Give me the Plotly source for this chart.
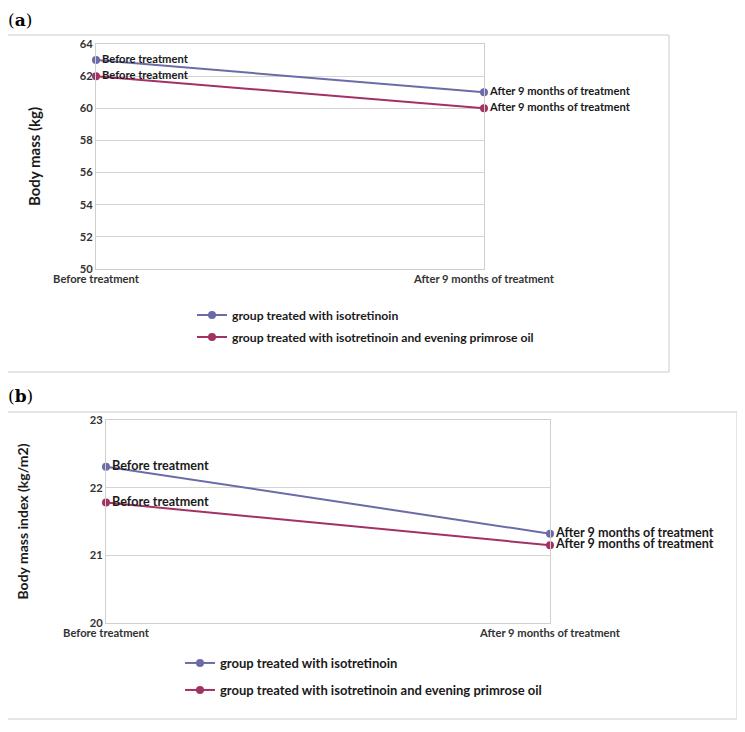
import plotly.graph_objects as go

W, H = 745, 732
OFF = 8  # the page body margin shifts the figure by this much

# data
stages = ["Before treatment", "After 9 months of treatment"]
series_names = ["group treated with isotretinoin",
                "group treated with isotretinoin and evening primrose oil"]
mass_iso = [63, 61]
mass_epo = [62, 60]
bmi_iso = [22.31, 21.32]
bmi_epo = [21.78, 21.15]
mass_ticks = [50, 52, 54, 56, 58, 60, 62, 64]
bmi_ticks = [20, 21, 22, 23]

colors = ["#6B6BAA", "#A23264"]
narrow = "Lato, Roboto, sans-serif"


def px_x(p):
    return (p - OFF) / W


def px_y(p):
    return 1 - (p - OFF) / H


fig = go.Figure()

panels = [
    ("x", "y", [mass_iso, mass_epo], ["legend", "legend2"], 11.2),
    ("x2", "y2", [bmi_iso, bmi_epo], ["legend3", "legend4"], 12.6),
]
for xa, ya, vals, legs, fs in panels:
    for i, v in enumerate(vals):
        fig.add_trace(go.Scatter(
            x=stages, y=v, xaxis=xa, yaxis=ya,
            mode="lines+markers+text",
            name=series_names[i],
            text=stages,
            textposition="middle right",
            textfont=dict(family=narrow, size=fs, color="#1a1a1a", weight="bold"),
            line=dict(color=colors[i], width=2),
            marker=dict(color=colors[i], size=8),
            cliponaxis=False,
            legend=legs[i],
        ))

tickfont = dict(family=narrow, size=11.2, color="#333333", weight="bold")
common_x = dict(type="category", range=[0, 1], showgrid=False, showline=True,
                linecolor="#cfcfcf", linewidth=1, mirror=True, ticks="",
                tickfont=tickfont, fixedrange=True, automargin=False)
common_y = dict(showgrid=True, gridcolor="#d4d4d4", gridwidth=1, showline=True,
                linecolor="#cfcfcf", linewidth=1, mirror=True, ticks="",
                tickfont=tickfont, zeroline=False, automargin=False)

leg = dict(bgcolor="rgba(0,0,0,0)", xanchor="left", yanchor="middle", itemwidth=30)
leg_a = dict(font=dict(family=narrow, size=12.2, color="#1a1a1a", weight="bold"), **leg)
leg_b = dict(font=dict(family=narrow, size=13, color="#1a1a1a", weight="bold"), **leg)

fig.update_layout(
    width=W, height=H,
    margin=dict(l=0, r=0, t=0, b=0, autoexpand=False),
    paper_bgcolor="white", plot_bgcolor="white",
    showlegend=True,
    xaxis=dict(domain=[px_x(96), px_x(484)], anchor="y", **common_x),
    yaxis=dict(domain=[px_y(269), px_y(44)], anchor="x", range=[50, 64],
               tickvals=mass_ticks, title=dict(text="Body mass (kg)",
               font=dict(family=narrow, size=15, color="#1a1a1a", weight="bold"),
               standoff=35), **common_y),
    xaxis2=dict(domain=[px_x(106), px_x(550)], anchor="y2", **common_x),
    yaxis2=dict(domain=[px_y(623), px_y(420)], anchor="x2", range=[20, 23],
                tickvals=bmi_ticks, title=dict(text="Body mass index (kg/m2)",
                font=dict(family=narrow, size=14, color="#1a1a1a", weight="bold"),
                standoff=57), **common_y),
    legend=dict(x=px_x(192), y=px_y(315), **leg_a),
    legend2=dict(x=px_x(192), y=px_y(337), **leg_a),
    legend3=dict(x=px_x(180), y=px_y(663), **leg_b),
    legend4=dict(x=px_x(180), y=px_y(690), **leg_b),
    shapes=[
        dict(type="rect", xref="paper", yref="paper",
             x0=px_x(7), x1=px_x(669), y0=px_y(372), y1=px_y(35),
             line=dict(color="#cccccc", width=1)),
        dict(type="rect", xref="paper", yref="paper",
             x0=px_x(7), x1=px_x(737), y0=px_y(719), y1=px_y(412),
             line=dict(color="#cccccc", width=1)),
    ],
    annotations=[
        dict(text="(<b>a</b>)", x=px_x(6), y=px_y(8), xref="paper", yref="paper",
             xanchor="left", yanchor="top", showarrow=False,
             font=dict(family="DejaVu Serif, Liberation Serif, serif", size=17, color="black")),
        dict(text="(<b>b</b>)", x=px_x(6), y=px_y(384), xref="paper", yref="paper",
             xanchor="left", yanchor="top", showarrow=False,
             font=dict(family="DejaVu Serif, Liberation Serif, serif", size=17, color="black")),
    ],
)

fig.write_html("out.html")
